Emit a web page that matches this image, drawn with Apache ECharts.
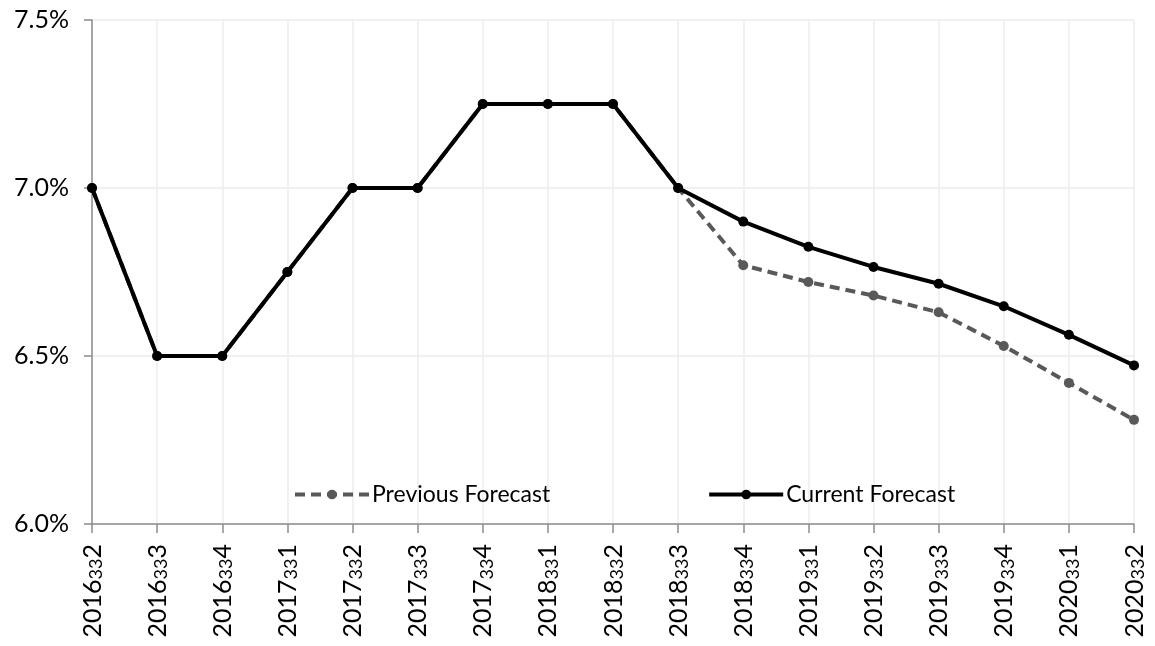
<!DOCTYPE html>
<html>
<head>
<meta charset="utf-8">
<script src="https://cdn.jsdelivr.net/npm/echarts@6/dist/echarts.min.js"></script>
<style>
  html, body { margin: 0; padding: 0; background: #fff; }
  #chart { width: 1155px; height: 646px; }
</style>
</head>
<body>
<div id="chart"></div>
<script>
// Quarter labels along the x axis: year, separator, quarter number
var quarterYears = ['2016', '2016', '2016', '2017', '2017', '2017', '2017', '2018', '2018',
  '2018', '2018', '2019', '2019', '2019', '2019', '2020', '2020'];
var quarterSep = '33';
var quarterNums = ['2', '3', '4', '1', '2', '3', '4', '1', '2', '3', '4', '1', '2', '3', '4', '1', '2'];
var quarters = quarterYears.map(function (y, i) { return y + quarterSep + quarterNums[i]; });

// Rates in percent
var previousForecast = [7.0, 6.5, 6.5, 6.75, 7.0, 7.0, 7.25, 7.25, 7.25, 7.0,
  6.77, 6.72, 6.68, 6.63, 6.53, 6.42, 6.31];
var currentForecast = [7.0, 6.5, 6.5, 6.75, 7.0, 7.0, 7.25, 7.25, 7.25, 7.0,
  6.90, 6.825, 6.765, 6.715, 6.648, 6.563, 6.472];

var yTicks = [6.0, 6.5, 7.0, 7.5];

var font = 'Lato, "DejaVu Sans", sans-serif';
var chart = echarts.init(document.getElementById('chart'), null, { renderer: 'canvas' });

chart.setOption({
  animation: false,
  backgroundColor: '#ffffff',
  grid: { left: 92, right: 21, top: 20, bottom: 122, containLabel: false },
  legend: {
    left: 288,
    top: 478,
    itemGap: 157,
    itemWidth: 74,
    itemHeight: 12,
    lineStyle: { width: 4 },
    textStyle: { fontFamily: font, fontSize: 23, color: '#000', padding: [0, 0, 0, -2] },
    data: ['Previous Forecast', 'Current Forecast']
  },
  xAxis: {
    type: 'category',
    boundaryGap: false,
    data: quarters,
    axisLine: { lineStyle: { color: '#8c8c8c', width: 1.5 } },
    axisTick: { show: true, length: 9, alignWithLabel: true, lineStyle: { color: '#8c8c8c', width: 1.5 } },
    axisLabel: {
      rotate: 90,
      fontFamily: font,
      fontSize: 25,
      color: '#000',
      margin: 20,
      interval: 0,
      formatter: function (v) {
        var i = quarters.indexOf(v);
        return '{m|' + quarterYears[i] + '}{s|' + quarterSep + '}{m|' + quarterNums[i] + '}';
      },
      rich: {
        m: { fontFamily: font, fontSize: 25, color: '#000', lineHeight: 26, verticalAlign: 'bottom' },
        s: { fontFamily: font, fontSize: 18, color: '#000', lineHeight: 26, verticalAlign: 'bottom' }
      }
    },
    splitLine: { show: true, lineStyle: { color: '#ececec', width: 1.5 } }
  },
  yAxis: {
    type: 'value',
    min: yTicks[0],
    max: yTicks[yTicks.length - 1],
    interval: 0.5,
    axisLine: { show: true, lineStyle: { color: '#8c8c8c', width: 1.5 } },
    axisTick: { show: true, length: 8, lineStyle: { color: '#8c8c8c', width: 1.5 } },
    axisLabel: {
      fontFamily: font,
      fontSize: 25,
      color: '#000',
      margin: 23,
      formatter: function (v) { return v.toFixed(1) + '%'; }
    },
    splitLine: { show: true, lineStyle: { color: '#ececec', width: 1.5 } }
  },
  series: [
    {
      name: 'Previous Forecast',
      type: 'line',
      data: previousForecast,
      symbol: 'circle',
      symbolSize: 10,
      itemStyle: { color: '#595959' },
      lineStyle: { color: '#595959', width: 4, type: [10, 6] },
      z: 2
    },
    {
      name: 'Current Forecast',
      type: 'line',
      data: currentForecast,
      symbol: 'circle',
      symbolSize: 10,
      itemStyle: { color: '#000000' },
      lineStyle: { color: '#000000', width: 4 },
      z: 3
    }
  ]
});
</script>
</body>
</html>
